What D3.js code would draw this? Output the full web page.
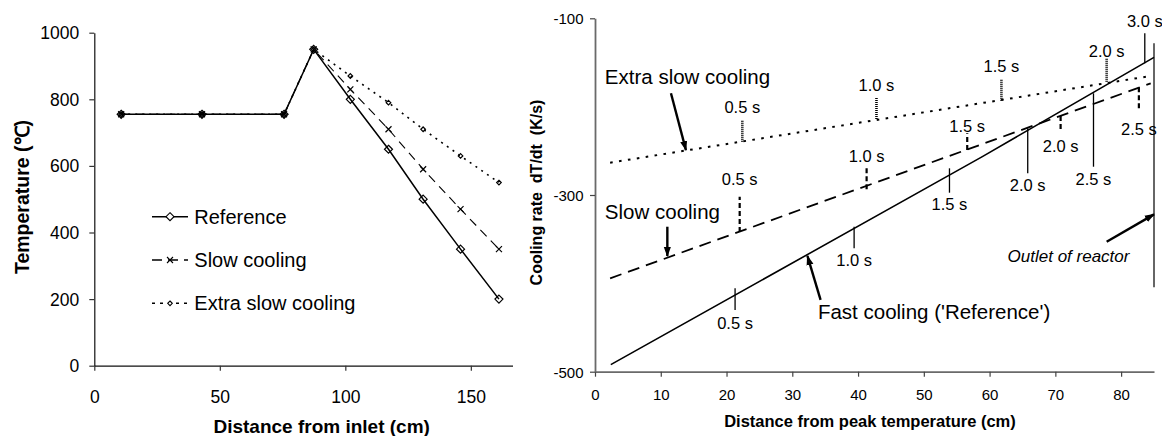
<!DOCTYPE html>
<html><head><meta charset="utf-8">
<script src="https://cdn.jsdelivr.net/npm/d3@7"></script>
<style>
body{margin:0;background:#fff}
svg{display:block;font-family:"Liberation Sans",Arial,Helvetica,sans-serif}
</style>
</head><body>
<svg id="c" width="1162" height="436"></svg>
<script>
// ---------- Left chart data ----------
const inletDistance = [10.7, 42.9, 75.6, 87.4, 102.0, 117.2, 131.0, 145.9, 161.2];
const referenceTemp = [755, 755, 755, 950, 800, 650, 500, 350, 200];
const slowTemp      = [755, 755, 755, 950, 830, 710, 590, 470, 350];
const extraSlowTemp = [755, 755, 755, 950, 870, 790, 710, 630, 550];
const leftSeriesNames = ["Reference", "Slow cooling", "Extra slow cooling"];
const leftXTicks = [0, 50, 100, 150];
const leftYTicks = [0, 200, 400, 600, 800, 1000];

// ---------- Right chart data ----------
const fastDist  = [2.4, 58.9, 85.0];
const fastRate  = [-492, -256.6, -144.2];
const slowDist  = [2.3, 84.5];
const slowRate  = [-394.3, -173.6];
const extraDist = [2.3, 84.5];
const extraRate = [-263.4, -165.3];
const rightXTicks = [0, 10, 20, 30, 40, 50, 60, 70, 80];
const rightYTicks = [-500, -300, -100];

// residence-time markers (distance, from rate, to rate, label rate)
const fastTimes      = ["0.5 s", "1.0 s", "1.5 s", "2.0 s", "2.5 s", "3.0 s"];
const fastMarkX      = [21.3, 39.4, 53.9, 65.8, 75.8, 83.6];
const fastMarkFrom   = [-405.6, -335.9, -269.8, -224.5, -184.9, -150.9];
const fastMarkTo     = [-430.2, -360.3, -297.4, -275.4, -268.0, -117.0];
const fastMarkLabel  = [-445.2, -373.5, -310.2, -288.9, -281.9, -102.7];

const slowTimes      = ["0.5 s", "1.0 s", "1.5 s", "2.0 s", "2.5 s"];
const slowMarkX      = [22.0, 41.3, 56.6, 70.8, 82.7];
const slowMarkFrom   = [-341.9, -269.8, -249.1, -210.6, -178.1];
const slowMarkTo     = [-301.9, -296.3, -230.2, -228.4, -204.9];
const slowMarkLabel  = [-281.9, -255.9, -221.6, -244.2, -225.6];

const extraTimes     = ["0.5 s", "1.0 s", "1.5 s", "2.0 s"];
const extraMarkX     = [22.4, 42.8, 61.8, 77.8];
const extraMarkFrom  = [-239.7, -214.0, -193.3, -171.8];
const extraMarkTo    = [-215.9, -189.9, -168.7, -145.7];
const extraMarkLabel = [-200.1, -175.5, -153.7, -136.7];

// curve name annotations (text anchor, arrow tail, arrow head) in data units
const curveNames   = ["Extra slow cooling", "Slow cooling", "Fast cooling ('Reference')"];
const curveNameX   = [1.5, 1.5, 33.9];
const curveNameY   = [-173.8, -327.5, -440.9];
const arrowFromX   = [11.55, 11.0, 34.3];
const arrowFromY   = [-184.9, -335.9, -418.8];
const arrowToX     = [13.83, 11.0, 32.3];
const arrowToY     = [-249.2, -369.1, -369.0];

const outletText = "Outlet of reactor";
const outletX = 85.0, outletTop = -128.3, outletBottom = -404.5;
const outletTextX = 72.0, outletTextY = -375.5;
const outletArrowFrom = [77.8, -352.9], outletArrowTo = [85.0, -321.9];

const svg = d3.select("#c");
const plain = d => String(d);

// arrowhead marker
svg.append("defs").append("marker")
  .attr("id", "ah").attr("viewBox", "0 0 10 10").attr("refX", 9).attr("refY", 5)
  .attr("markerWidth", 4.2).attr("markerHeight", 4.2).attr("markerUnits", "strokeWidth")
  .attr("orient", "auto")
  .append("path").attr("d", "M0,1.5 L10,5 L0,8.5 Z").attr("fill", "#000");

// ================= LEFT CHART =================
const lx = d3.scaleLinear().domain([0, 166.6]).range([94.3, 512.5]);
const ly = d3.scaleLinear().domain([0, 1000]).range([365.7, 32.7]);

const gL = svg.append("g");
const lxAxis = gL.append("g").attr("transform", `translate(0,${ly(0)})`)
  .call(d3.axisBottom(lx).tickValues(leftXTicks).tickFormat(plain).tickSize(5).tickSizeOuter(0));
lxAxis.selectAll("text").attr("dy", null).attr("y", 31).attr("dominant-baseline", "central")
  .style("font-size", "17.5px").attr("fill", "#000");
const lyAxis = gL.append("g").attr("transform", `translate(${lx(0)},0)`)
  .call(d3.axisLeft(ly).tickValues(leftYTicks).tickFormat(plain).tickSize(5).tickSizeOuter(0));
lyAxis.selectAll("text").attr("dy", null).attr("x", -15).attr("dominant-baseline", "central")
  .style("font-size", "17.5px").attr("fill", "#000");
[lxAxis, lyAxis].forEach(a => {
  a.select(".domain").attr("stroke", "#111").attr("stroke-width", 1.2);
  a.selectAll(".tick line").attr("stroke", "#333").attr("stroke-width", 1.2);
});

gL.append("text").attr("x", 321.7).attr("y", 433).attr("text-anchor", "middle")
  .style("font-size", "19px").style("font-weight", "bold").text("Distance from inlet (cm)");
gL.append("text").attr("transform", "translate(21.5,197) rotate(-90)")
  .attr("text-anchor", "middle").attr("dominant-baseline", "central")
  .style("font-size", "19.5px").style("font-weight", "bold").text("Temperature (℃)");

const leftSeries = [
  {name: leftSeriesNames[0], vals: referenceTemp, dash: null, w: 1.5, sym: "diamond", r: 4},
  {name: leftSeriesNames[1], vals: slowTemp, dash: "9,6", w: 1.1, sym: "x", r: 3},
  {name: leftSeriesNames[2], vals: extraSlowTemp, dash: "2,5", w: 1.6, sym: "diamond", r: 2.3}
];
function symbolPath(sym, r) {
  if (sym === "diamond") return `M0,${-r} L${r},0 L0,${r} L${-r},0 Z`;
  return `M${-r},${-r} L${r},${r} M${-r},${r} L${r},${-r}`;
}
const line = d3.line();
leftSeries.forEach(s => {
  const pts = inletDistance.map((d, i) => [lx(d), ly(s.vals[i])]);
  gL.append("path").attr("d", line(pts)).attr("fill", "none").attr("stroke", "#000")
    .attr("stroke-width", s.w).attr("stroke-dasharray", s.dash);
});
leftSeries.forEach(s => {
  const pts = inletDistance.map((d, i) => [lx(d), ly(s.vals[i])]);
  gL.selectAll(null).data(pts).enter().append("path")
    .attr("transform", d => `translate(${d[0]},${d[1]})`)
    .attr("d", symbolPath(s.sym, s.r))
    .attr("fill", "none")
    .attr("stroke", "#000").attr("stroke-width", 1.2);
});
// legend
const legY = [216.7, 260, 303.3];
leftSeries.forEach((s, i) => {
  const g = gL.append("g").attr("transform", `translate(0,${legY[i]})`);
  g.append("line").attr("x1", 152).attr("x2", 188).attr("y1", 0).attr("y2", 0)
    .attr("stroke", "#000").attr("stroke-width", s.w + (i === 1 ? 0.6 : 0))
    .attr("stroke-dasharray", i === 1 ? "10,6" : (i === 2 ? "3,5" : null));
  g.append("path").attr("transform", "translate(170,0)").attr("d", symbolPath(s.sym, s.r))
    .attr("fill", "#fff").attr("stroke", "#000").attr("stroke-width", 1.1);
  g.append("text").attr("x", 194.3).attr("dominant-baseline", "central")
    .style("font-size", "20px").text(s.name);
});

// ================= RIGHT CHART =================
const rx = d3.scaleLinear().domain([0, 85]).range([595, 1154]);
const ry = d3.scaleLinear().domain([-500, -100]).range([371.7, 18.3]);
const gR = svg.append("g");
const rxAxis = gR.append("g").attr("transform", `translate(0,${ry(-500)})`)
  .call(d3.axisBottom(rx).tickValues(rightXTicks).tickFormat(plain).tickSize(5).tickSizeOuter(0));
rxAxis.selectAll("text").attr("dy", null).attr("y", 23.3).attr("dominant-baseline", "central")
  .style("font-size", "15px").attr("fill", "#000");
const ryAxis = gR.append("g").attr("transform", `translate(${rx(0)},0)`)
  .call(d3.axisLeft(ry).tickValues(rightYTicks).tickFormat(plain).tickSize(5).tickSizeOuter(0));
ryAxis.selectAll("text").attr("dy", null).attr("x", -11.5).attr("dominant-baseline", "central")
  .style("font-size", "15px").attr("fill", "#000");
[rxAxis, ryAxis].forEach(a => {
  a.select(".domain").attr("stroke", "#6a6a6a").attr("stroke-width", 1.8);
  a.selectAll(".tick line").attr("stroke", "#444").attr("stroke-width", 1.2);
});
gR.append("text").attr("x", 870).attr("y", 427).attr("text-anchor", "middle")
  .style("font-size", "16.5px").style("font-weight", "bold").text("Distance from peak temperature (cm)");
gR.append("text").attr("transform", "translate(536.7,192.5) rotate(-90)")
  .attr("text-anchor", "middle").attr("dominant-baseline", "central")
  .style("font-size", "16px").style("font-weight", "bold").style("white-space", "pre")
  .attr("xml:space", "preserve").text("Cooling rate  dT/dt  (K/s)");

// outlet line
gR.append("line").attr("x1", rx(outletX)).attr("x2", rx(outletX))
  .attr("y1", ry(outletTop)).attr("y2", ry(outletBottom))
  .attr("stroke", "#666").attr("stroke-width", 2);

// curves
const rightCurves = [
  {xs: extraDist, ys: extraRate, dash: "2.6,6.4", w: 2},
  {xs: slowDist, ys: slowRate, dash: "12,7", w: 1.8},
  {xs: fastDist, ys: fastRate, dash: null, w: 1.6}
];
rightCurves.forEach(c => {
  gR.append("path").attr("d", line(c.xs.map((d, i) => [rx(d), ry(c.ys[i])])))
    .attr("fill", "none").attr("stroke", "#000").attr("stroke-width", c.w)
    .attr("stroke-dasharray", c.dash);
});

// time markers
const markerSets = [
  {t: fastTimes, x: fastMarkX, f: fastMarkFrom, to: fastMarkTo, l: fastMarkLabel, dash: null, w: 1.3},
  {t: slowTimes, x: slowMarkX, f: slowMarkFrom, to: slowMarkTo, l: slowMarkLabel, dash: "5,3", w: 2.2},
  {t: extraTimes, x: extraMarkX, f: extraMarkFrom, to: extraMarkTo, l: extraMarkLabel, dash: "1,1", w: 2.6}
];
markerSets.forEach(m => {
  m.t.forEach((t, i) => {
    gR.append("line").attr("x1", rx(m.x[i])).attr("x2", rx(m.x[i]))
      .attr("y1", ry(m.f[i])).attr("y2", ry(m.to[i]))
      .attr("stroke", "#000").attr("stroke-width", m.w).attr("stroke-dasharray", m.dash);
    gR.append("text").attr("x", rx(m.x[i])).attr("y", ry(m.l[i]))
      .attr("text-anchor", "middle").attr("dominant-baseline", "central")
      .style("font-size", "16.5px").text(t);
  });
});

// curve names and arrows
curveNames.forEach((n, i) => {
  gR.append("text").attr("x", rx(curveNameX[i])).attr("y", ry(curveNameY[i]))
    .style("font-size", "20.5px").text(n);
  gR.append("line").attr("x1", rx(arrowFromX[i])).attr("y1", ry(arrowFromY[i]))
    .attr("x2", rx(arrowToX[i])).attr("y2", ry(arrowToY[i]))
    .attr("stroke", "#000").attr("stroke-width", 2.4).attr("marker-end", "url(#ah)");
});
gR.append("line").attr("x1", rx(outletArrowFrom[0])).attr("y1", ry(outletArrowFrom[1]))
  .attr("x2", rx(outletArrowTo[0])).attr("y2", ry(outletArrowTo[1]))
  .attr("stroke", "#000").attr("stroke-width", 2.4).attr("marker-end", "url(#ah)");
gR.append("text").attr("x", rx(outletTextX)).attr("y", ry(outletTextY))
  .attr("text-anchor", "middle").style("font-size", "17px").style("font-style", "italic")
  .text(outletText);
</script>
</body></html>
